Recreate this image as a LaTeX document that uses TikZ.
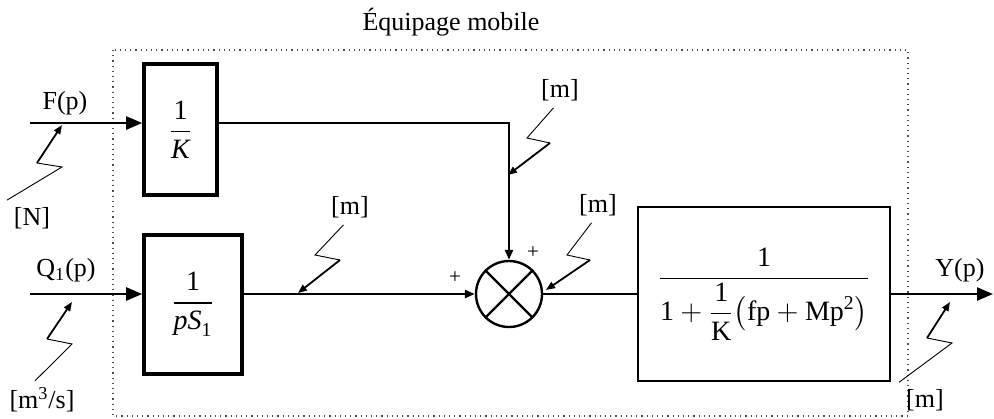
\documentclass[tikz,border=0pt]{standalone}
\usepackage{amsmath}
\usepackage{fontspec}
\setmainfont{Liberation Serif}
\usetikzlibrary{arrows.meta,positioning}

\begin{document}
\begin{tikzpicture}[
  x=0.5pt, y=-0.5pt,
  every node/.style={font=\fontsize{13}{15}\selectfont},
  blk/.style={
    rectangle, draw=black, line width=1.8pt,
    inner sep=0pt, align=center,
    font=\fontsize{14}{16}\selectfont
  },
  sumnode/.style={circle, draw=black, line width=1.2pt, minimum size=33pt, inner sep=0pt},
  sig/.style={line width=1.2pt},
  bigarr/.style={sig, -{Triangle[length=8pt,width=6.5pt]}},
  smallarr/.style={sig, -{Triangle[length=5pt,width=4pt]}},
  zz/.style={line width=0.45pt, line join=miter},
  zztip/.style={line width=0.9pt, -{Triangle[length=4.5pt,width=3.5pt]}},
  frame/.style={dotted, line width=0.6pt, draw=black!70},
  pm/.style={font=\fontsize{10.5}{12}\selectfont},
]
\useasboundingbox (0,0) rectangle (994,418);

%% ── Moving assembly frame ────────────────────────────────────────
\draw[frame] (113,50) rectangle (908,416);
\node (title) at (451,22) {Équipage mobile};

%% ── Blocks ───────────────────────────────────────────────────────
\node[blk, minimum width=36.5pt, minimum height=65.5pt] (kblk) at (180.5,129.5)
      {$\dfrac{\text{1}}{\textit{K}}$};
\node[blk, minimum width=49pt, minimum height=69.5pt]   (pblk) at (193,304.5)
      {$\dfrac{\text{1}}{\textit{pS}_{\text{1}}}$};
\node[sumnode] (sum) at (509,294) {};
\draw[line width=1.2pt] (sum.45) -- (sum.225) (sum.135) -- (sum.315);
\node[blk, line width=0.8pt, minimum width=126pt, minimum height=87pt] (gblk) at (764,294)
      {$\dfrac{\text{1}}{\text{1}+\dfrac{\text{1}}{\text{K}}\bigl(\text{fp}+\text{Mp}^{\text{2}}\bigr)}$};

%% ── Inputs / output ──────────────────────────────────────────────
\coordinate (fin)  at (30,123);
\coordinate (qin)  at (30,294);
\coordinate (yout) at (993,294);
\node (flab) at (65,103) {F(p)};
\node (qlab) at (66,270) {Q\textsubscript{1}(p)};
\node (ylab) at (960,270) {Y(p)};

%% ── Signal lines ─────────────────────────────────────────────────
\draw[bigarr]   (fin) -- (fin -| kblk.west);
\draw[bigarr]   (qin) -- (qin -| pblk.west);
\draw[smallarr] (kblk.east |- fin) -| (sum.north);
\draw[smallarr] (pblk.east |- sum) -- (sum.west);
\draw[sig]      (sum.east) -- (gblk.west);
\draw[bigarr]   (gblk.east) -- (yout);

%% ── Signs ────────────────────────────────────────────────────────
\node[pm] (pa) at (455,278) {+};
\node[pm] (pb) at (533,253) {+};

%% ── Unit labels ──────────────────────────────────────────────────
\node (lblN) at (32,218)  {[N]};
\node (lblQ) at (42,400)  {[m\textsuperscript{3}/s]};
\node (lblA) at (560,90)  {[m]};
\node (lblB) at (350,207) {[m]};
\node (lblC) at (598,205) {[m]};
\node (lblD) at (925,400) {[m]};

\coordinate (tipN) at (62,125);
\coordinate (tipQ) at (72,302);
\coordinate (tipA) at (508,175);
\coordinate (tipB) at (298,293);
\coordinate (tipC) at (546,290);
\coordinate (tipD) at (950,302);

%% ── Unit arrows (zig-zag) ────────────────────────────────────────
\draw[zz] (lblN.north west) -- (62,167) -- (37,163);
\draw[zztip] (37,163) -- (tipN);
\draw[zz] (lblQ.110) -- (72,344) -- (47,339);
\draw[zztip] (47,339) -- (tipQ);
\draw[zz] (lblA.250) -- (527,138) -- (550,143);
\draw[zztip] (550,143) -- (tipA);
\draw[zz] (lblB.250) -- (315,255) -- (340,260);
\draw[zztip] (340,260) -- (tipB);
\draw[zz] (lblC.250) -- (567,255) -- (590,260);
\draw[zztip] (590,260) -- (tipC);
\draw[zz] (lblD.north west) -- (952,343) -- (927,338);
\draw[zztip] (927,338) -- (tipD);

\end{tikzpicture}
\end{document}
